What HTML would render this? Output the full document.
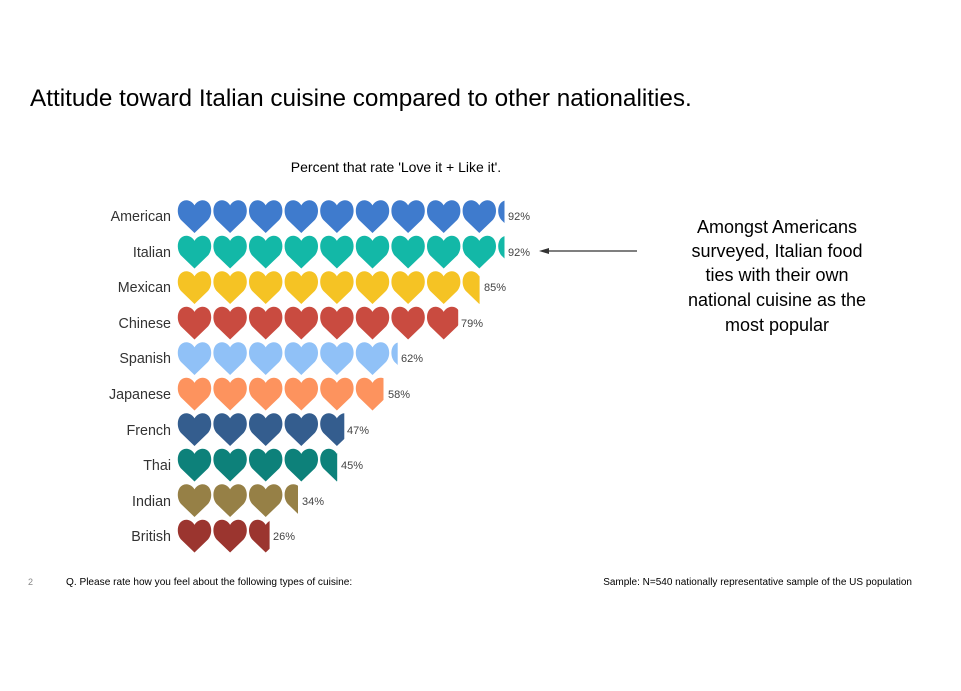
<!DOCTYPE html>
<html><head><style>body{margin:0;background:#fff}svg text{font-family:"Liberation Sans",sans-serif}</style></head>
<body>
<svg width="961" height="686" xmlns="http://www.w3.org/2000/svg">
<defs>
<symbol id="h" viewBox="0 0 36 36"><path d="M18 35 L4 21.5 C-1.5 15 0 1.5 9.5 1.3 C13.5 1.2 16.5 4 18 6.5 C19.5 4 22.5 1.2 26.5 1.3 C36 1.5 37.5 15 32 21.5 Z"/></symbol>
<g id="row"><use href="#h" x="0" y="0" width="35" height="35"/><use href="#h" x="35.6" width="35" height="35"/><use href="#h" x="71.2" width="35" height="35"/><use href="#h" x="106.8" width="35" height="35"/><use href="#h" x="142.4" width="35" height="35"/><use href="#h" x="178" width="35" height="35"/><use href="#h" x="213.6" width="35" height="35"/><use href="#h" x="249.2" width="35" height="35"/><use href="#h" x="284.8" width="35" height="35"/><use href="#h" x="320.4" width="35" height="35"/></g>
</defs>
<text x="30" y="106" font-size="24.3" fill="#000">Attitude toward Italian cuisine compared to other nationalities.</text>
<text x="396" y="172" font-size="14" text-anchor="middle" fill="#000">Percent that rate 'Love it + Like it'.</text>
<g font-size="14.3" fill="#333" text-anchor="end">
<text x="171" y="221">American</text><text x="171" y="257">Italian</text><text x="171" y="292">Mexican</text><text x="171" y="328">Chinese</text><text x="171" y="363">Spanish</text><text x="171" y="399">Japanese</text><text x="171" y="435">French</text><text x="171" y="470">Thai</text><text x="171" y="506">Indian</text><text x="171" y="541">British</text>
</g>
<clipPath id="c92"><rect x="0" y="0" width="327.5" height="40"/></clipPath>
<clipPath id="c85"><rect x="0" y="0" width="302.6" height="40"/></clipPath>
<clipPath id="c79"><rect x="0" y="0" width="281.2" height="40"/></clipPath>
<clipPath id="c62"><rect x="0" y="0" width="220.7" height="40"/></clipPath>
<clipPath id="c58"><rect x="0" y="0" width="206.5" height="40"/></clipPath>
<clipPath id="c47"><rect x="0" y="0" width="167.3" height="40"/></clipPath>
<clipPath id="c45"><rect x="0" y="0" width="160.2" height="40"/></clipPath>
<clipPath id="c34"><rect x="0" y="0" width="121" height="40"/></clipPath>
<clipPath id="c26"><rect x="0" y="0" width="92.6" height="40"/></clipPath>
<g transform="translate(177,199)"><g clip-path="url(#c92)" fill="#3f7bcd"><use href="#row"/></g></g>
<g transform="translate(177,234.5)"><g clip-path="url(#c92)" fill="#13b8a7"><use href="#row"/></g></g>
<g transform="translate(177,270)"><g clip-path="url(#c85)" fill="#f5c324"><use href="#row"/></g></g>
<g transform="translate(177,305.5)"><g clip-path="url(#c79)" fill="#c94b40"><use href="#row"/></g></g>
<g transform="translate(177,341)"><g clip-path="url(#c62)" fill="#90c1f7"><use href="#row"/></g></g>
<g transform="translate(177,376.5)"><g clip-path="url(#c58)" fill="#fd935e"><use href="#row"/></g></g>
<g transform="translate(177,412)"><g clip-path="url(#c47)" fill="#345d8e"><use href="#row"/></g></g>
<g transform="translate(177,447.5)"><g clip-path="url(#c45)" fill="#0d817a"><use href="#row"/></g></g>
<g transform="translate(177,483)"><g clip-path="url(#c34)" fill="#968046"><use href="#row"/></g></g>
<g transform="translate(177,518.5)"><g clip-path="url(#c26)" fill="#9b352f"><use href="#row"/></g></g>
<g font-size="11" fill="#444">
<text x="508" y="220">92%</text><text x="508" y="256">92%</text><text x="484" y="291">85%</text><text x="461" y="327">79%</text><text x="401" y="362">62%</text><text x="388" y="398">58%</text><text x="347" y="434">47%</text><text x="341" y="469">45%</text><text x="302" y="505">34%</text><text x="273" y="540">26%</text>
</g>
<line x1="546" y1="251" x2="637" y2="251" stroke="#333" stroke-width="1.3"/>
<path d="M539 251 L549 248 L549 254 Z" fill="#333"/>
<g font-size="18" fill="#000" text-anchor="middle">
<text x="777" y="233">Amongst Americans</text><text x="777" y="257">surveyed, Italian food</text><text x="777" y="281">ties with their own</text><text x="777" y="306">national cuisine as the</text><text x="777" y="331">most popular</text>
</g>
<text x="28" y="585" font-size="9" fill="#888">2</text>
<text x="66" y="585" font-size="10.1" fill="#000">Q. Please rate how you feel about the following types of cuisine:</text>
<text x="912" y="585" font-size="10" fill="#000" text-anchor="end">Sample: N=540 nationally representative sample of the US population</text>
</svg>
</body></html>
